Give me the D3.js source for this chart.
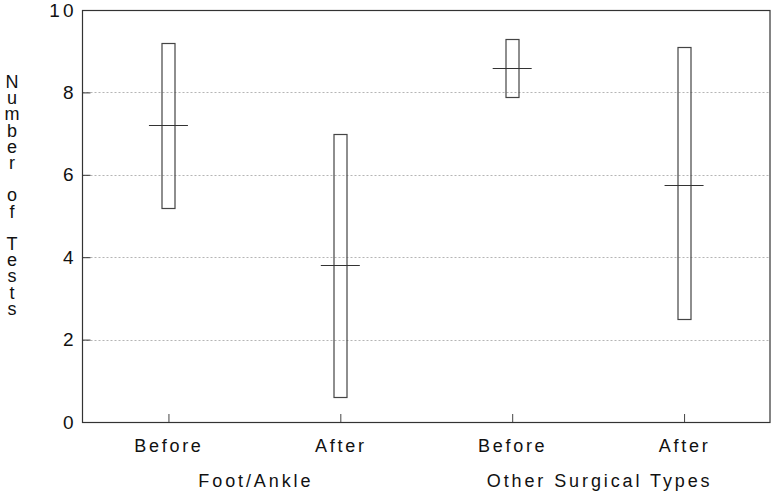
<!DOCTYPE html>
<html>
<head>
<meta charset="utf-8">
<script src="https://cdn.jsdelivr.net/npm/d3@7"></script>
<style>
  body { margin: 0; background: #fff; }
  text { font-family: "Liberation Sans", Arial, sans-serif; fill: #111; }
</style>
</head>
<body>
<div id="chart"></div>
<script>
// dados
const groups = ["Foot/Ankle", "Other Surgical Types"];
const conditions = ["Before", "After"];
const highValues = [9.2, 7.0, 9.3, 9.1];
const lowValues  = [5.2, 0.6, 7.9, 2.5];
const meanValues = [7.2, 3.8, 8.6, 5.75];
const yTicks = [0, 2, 4, 6, 8, 10];
const yTitle = "Number of Tests";

// layout
const margin = {top: 10, right: 7, bottom: 72, left: 82.5},
      width = 777 - margin.left - margin.right,
      height = 494 - margin.top - margin.bottom;

const svg = d3.select("#chart")
    .append("svg")
    .attr("width", 777)
    .attr("height", 494)
    .append("g")
    .attr("transform", `translate(${margin.left},${margin.top})`);

// uma entrada por caixa (grupo x condição)
const boxes = [];
groups.forEach((g, gi) => {
    conditions.forEach((c, ci) => {
        const i = gi * conditions.length + ci;
        boxes.push({id: g + "|" + c, group: g, cond: c, hi: highValues[i], lo: lowValues[i], mean: meanValues[i]});
    });
});

const x = d3.scalePoint()
    .domain(boxes.map(d => d.id))
    .range([0, width])
    .padding(0.5);

const y = d3.scaleLinear()
    .domain([0, 10])
    .range([height, 0]);

// linhas de grade pontilhadas
svg.append("g")
    .selectAll("line")
    .data(yTicks.filter(t => t > 0 && t < 10))
    .join("line")
    .attr("x1", 0)
    .attr("x2", width)
    .attr("y1", d => Math.round(y(d)) + 0.5)
    .attr("y2", d => Math.round(y(d)) + 0.5)
    .attr("stroke", "#b5b5b5")
    .attr("stroke-width", 1)
    .attr("stroke-dasharray", "2,2");

// eixo Y com ticks para dentro
const yAxis = svg.append("g")
    .call(d3.axisLeft(y).tickValues(yTicks).tickSize(-8).tickPadding(6).tickFormat(d3.format("d")));
yAxis.select(".domain").remove();
yAxis.selectAll("line").attr("stroke", "#333");
yAxis.selectAll("text")
    .style("font-size", "19px")
    .style("letter-spacing", "3px")
    .attr("fill", "#111");

// eixo X com ticks para dentro
const xAxis = svg.append("g")
    .attr("transform", `translate(0,${height})`)
    .call(d3.axisBottom(x).tickSize(-8).tickFormat(d => d.split("|")[1]).tickPadding(17));
xAxis.select(".domain").remove();
xAxis.selectAll("line").attr("stroke", "#444");
xAxis.selectAll("text")
    .style("font-size", "18px")
    .style("letter-spacing", "2.7px")
    .attr("fill", "#111");

// rótulos de grupo
svg.append("g")
    .selectAll("text")
    .data(groups)
    .join("text")
    .attr("x", g => {
        const ids = boxes.filter(b => b.group === g).map(b => x(b.id));
        return d3.mean(ids) + 1.5;
    })
    .attr("y", height + 65)
    .attr("text-anchor", "middle")
    .style("font-size", "18px")
    .style("letter-spacing", "2.9px")
    .text(g => g);

// moldura
svg.append("rect")
    .attr("x", 0)
    .attr("y", 0.5)
    .attr("width", width)
    .attr("height", height)
    .attr("fill", "none")
    .attr("stroke", "#333")
    .attr("stroke-width", 1.2);

// caixas (mín–máx) e linha da média
const boxW = 13, meanW = 39;
const bx = svg.append("g");
bx.selectAll("rect.box")
    .data(boxes)
    .join("rect")
    .attr("class", "box")
    .attr("x", d => Math.round(x(d.id) - boxW / 2) + 0.5)
    .attr("y", d => Math.round(y(d.hi)) + 0.5)
    .attr("width", boxW)
    .attr("height", d => Math.round(y(d.lo)) - Math.round(y(d.hi)))
    .attr("fill", "none")
    .attr("stroke", "#444")
    .attr("stroke-width", 1.2);

bx.selectAll("line.mean")
    .data(boxes)
    .join("line")
    .attr("class", "mean")
    .attr("x1", d => x(d.id) - meanW / 2)
    .attr("x2", d => x(d.id) + meanW / 2)
    .attr("y1", d => Math.round(y(d.mean)) + 0.5)
    .attr("y2", d => Math.round(y(d.mean)) + 0.5)
    .attr("stroke", "#333")
    .attr("stroke-width", 1.2);

// título do eixo Y: uma só linha vertical, letras em pé
d3.select("#chart svg").append("text")
    .attr("x", 12)
    .attr("y", 72)
    .style("writing-mode", "vertical-rl")
    .style("text-orientation", "upright")
    .style("font-size", "18px")
    .style("letter-spacing", "-3.8px")
    .text(yTitle);
</script>
</body>
</html>
